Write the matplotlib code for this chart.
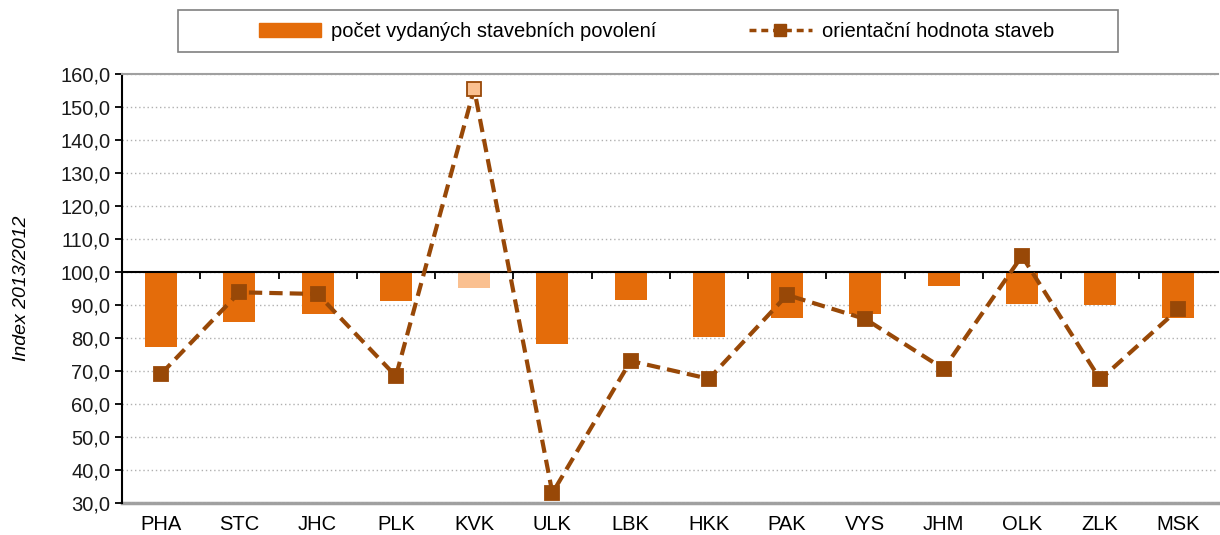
import matplotlib.pyplot as plt
import matplotlib.patches as mpatches
from matplotlib.lines import Line2D
from matplotlib.ticker import FuncFormatter
import numpy as np

plt.rcParams['font.family'] = ['Liberation Sans', 'DejaVu Sans']

regions = ["PHA", "STC", "JHC", "PLK", "KVK", "ULK", "LBK",
           "HKK", "PAK", "VYS", "JHM", "OLK", "ZLK", "MSK"]
povoleni = [77.3, 84.8, 87.2, 91.1, 95.1, 78.0, 91.5,
            80.2, 86.0, 87.2, 95.7, 90.4, 90.0, 86.0]
hodnota = [69.1, 93.8, 93.3, 68.4, 155.4, 33.0, 73.0,
           67.6, 93.0, 85.7, 70.6, 104.8, 67.4, 88.7]
highlight = "KVK"

bar_col = "#E46C0A"
bar_light = "#FAC090"
line_col = "#984807"
base = 100
fs = 14.5

fig = plt.figure(figsize=(12.2, 5.35), dpi=100)
ax = fig.add_axes([0.1, 0.06, 0.898, 0.802])

x = np.arange(len(regions))
heights = [v - base for v in povoleni]
cols = [bar_light if r == highlight else bar_col for r in regions]
ax.bar(x, heights, bottom=base, width=0.41, color=cols, zorder=2)

ax.plot(x, hodnota, color=line_col, lw=3, ls=(0, (3.2, 1.7)), zorder=3)
mfc = [bar_light if r == highlight else line_col for r in regions]
for xi, yi, fc in zip(x, hodnota, mfc):
    ax.plot(xi, yi, marker="s", ms=10.5, mfc=fc, mec=line_col, mew=1.3, zorder=4)

ax.set_xlim(-0.5, len(regions) - 0.5)
ax.set_ylim(30, 160)
ax.set_yticks(np.arange(30, 161, 10))
ax.yaxis.set_major_formatter(FuncFormatter(lambda v, p: f"{v:.1f}".replace(".", ",")))
ax.grid(axis="y", color="#b0b0b0", ls=(0, (1, 2)), lw=1, zorder=0)
ax.tick_params(axis="y", labelsize=fs, length=5, width=1.3, colors="black",
               labelcolor="#1a1a1a")

# category boundary ticks sit on the 100 line
ax.spines["bottom"].set_position(("data", base))
ax.spines["bottom"].set_linewidth(1.5)
ax.set_xticks(np.arange(0.5, len(regions) - 0.5, 1))
ax.tick_params(axis="x", length=5, width=1.3, labelbottom=False)
ax.spines["top"].set_color("#a0a0a0")
ax.spines["top"].set_linewidth(1.5)
ax.spines["right"].set_visible(False)
ax.spines["left"].set_linewidth(1.5)
ax.axhline(30, color="#a0a0a0", lw=2.5, zorder=1, clip_on=False)

sec = ax.secondary_xaxis(0)
sec.set_xticks(x)
sec.set_xticklabels(regions)
sec.tick_params(length=0, pad=9, labelsize=fs)
sec.spines["bottom"].set_visible(False)

ax.set_ylabel("Index 2013/2012", style="italic", fontsize=14, labelpad=22)

handles = [mpatches.Patch(color=bar_col),
           Line2D([], [], color=line_col, lw=2.5, ls=(0, (2, 1.4)),
                  marker="s", ms=8, mfc=line_col, mec=line_col)]
fig.legend(handles, ["počet vydaných stavebních povolení", "orientační hodnota staveb"],
           loc="center", bbox_to_anchor=(0.538, 0.941), ncol=2, frameon=False,
           fontsize=fs, handlelength=3.1, columnspacing=4.6, handletextpad=0.5)
fig.patches.append(mpatches.Rectangle((0.146, 0.903), 0.77, 0.078, transform=fig.transFigure,
                                      fill=False, ec="#808080", lw=1.2))

fig.savefig("out.png", dpi=100)
